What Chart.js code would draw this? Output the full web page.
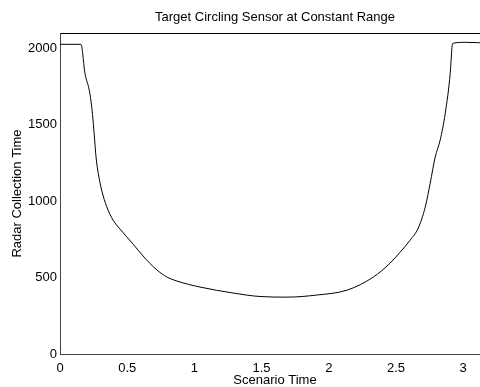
<!DOCTYPE html>
<html>
<head>
<meta charset="utf-8">
<script src="https://cdn.jsdelivr.net/npm/chart.js@4.4.1/dist/chart.umd.min.js"></script>
<style>
  html, body { margin: 0; padding: 0; background: #fff; overflow: hidden; }
  #wrap { width: 480px; height: 387px; overflow: hidden; }
</style>
</head>
<body>
<div id="wrap"><canvas id="chart" width="490" height="387"></canvas></div>
<script>
// values
const scenarioTime = [0, 0.156, 0.186, 0.218, 0.236, 0.248, 0.258, 0.268, 0.285, 0.310,
  0.348, 0.395, 0.447, 0.544, 0.618, 0.722, 0.797, 0.871, 1.042, 1.288,
  1.489, 1.690, 1.914, 2.137, 2.331, 2.457, 2.532, 2.606, 2.666, 2.718,
  2.755, 2.792, 2.829, 2.867, 2.904, 2.919, 2.926, 3.016, 3.2];
const collectionTime = [2026, 2026, 1835, 1725, 1617, 1508, 1399, 1290, 1181, 1072,
  963, 876, 817, 719, 641, 549, 503, 477, 438, 399,
  376, 372, 386, 418, 503, 595, 667, 745, 824, 961,
  1118, 1288, 1399, 1575, 1837, 2020, 2033, 2039, 2033];
const xTicks = [0, 0.5, 1, 1.5, 2, 2.5, 3];
const yTicks = [0, 500, 1000, 1500, 2000];

const points = scenarioTime.map((t, i) => ({x: t, y: collectionTime[i]}));
const font = {family: "'Liberation Sans', Arial, sans-serif", size: 13};

new Chart(document.getElementById('chart'), {
  type: 'line',
  data: {
    datasets: [{
      data: points,
      borderColor: '#000',
      borderWidth: 1,
      pointRadius: 0,
      fill: false,
      cubicInterpolationMode: 'monotone'
    }]
  },
  options: {
    responsive: false,
    animation: false,
    layout: {padding: 0},
    plugins: {legend: {display: false}, tooltip: {enabled: false}},
    scales: {
      x: {
        type: 'linear',
        min: 0,
        max: 3.2,
        afterBuildTicks: s => { s.ticks = xTicks.map(v => ({value: v})); },
        afterFit: s => { s.height = 33; },
        grid: {display: false, drawTicks: false},
        border: {display: true, color: '#444', width: 1},
        ticks: {color: '#000', font: font, padding: 7, maxRotation: 0,
          callback: v => String(v)},
        title: {display: true, text: 'Scenario Time', color: '#000',
          font: {family: font.family, size: 13, lineHeight: 1},
          padding: {top: 0, bottom: 0}}
      },
      x2: {
        type: 'linear',
        position: 'top',
        min: 0,
        max: 3.2,
        afterFit: s => { s.height = 33; },
        grid: {display: false, drawTicks: false},
        border: {display: true, color: '#000', width: 1},
        ticks: {display: false},
        title: {display: true, text: 'Target Circling Sensor at Constant Range',
          color: '#000', font: font, padding: {top: 10, bottom: 0}}
      },
      y: {
        min: 0,
        max: 2100,
        afterBuildTicks: s => { s.ticks = yTicks.map(v => ({value: v})); },
        afterFit: s => { s.width = 60; },
        grid: {display: false, drawTicks: false},
        border: {display: true, color: '#444', width: 1},
        ticks: {color: '#000', font: font, padding: 3, callback: v => String(v)},
        title: {display: true, text: 'Radar Collection Time', color: '#000', font: font,
          padding: {top: 10, bottom: 0}}
      }
    }
  }
});
</script>
</body>
</html>
